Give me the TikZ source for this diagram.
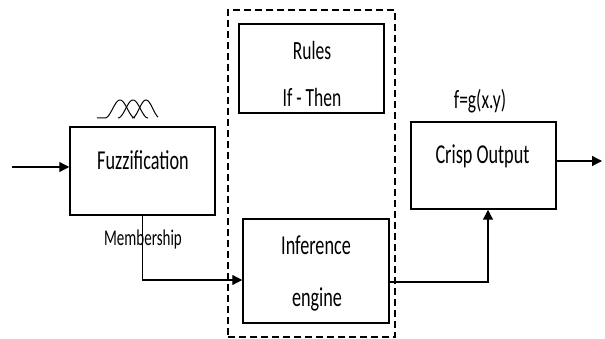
\documentclass[tikz,border=0pt]{standalone}
\usepackage{fontspec}
\usepackage{graphicx}
\setmainfont{Carlito}
\usetikzlibrary{arrows.meta}

% text set a little taller than wide
\newcommand{\tallbox}[1]{\scalebox{1}[1.5]{#1}}

\tikzset{
  blockbox/.style={draw, line width=1.5pt, inner sep=0pt, rectangle},
  label18/.style={inner sep=0pt, font=\fontsize{18.2}{20}\selectfont},
  label17/.style={inner sep=0pt, font=\fontsize{17.5}{20}\selectfont},
  label15/.style={inner sep=0pt, font=\fontsize{15}{18}\selectfont},
  wire/.style={line width=1.2pt},
  arrowwire/.style={wire, -{Triangle[length=10pt,width=10pt]}},
  groupframe/.style={draw, line width=1.6pt, dash pattern=on 7pt off 4pt},
  curve/.style={line width=1pt},
}

\begin{document}
\begin{tikzpicture}[x=1pt, y=-1pt]
  \useasboundingbox (0,0) rectangle (605,339);

  % fuzzy system blocks
  \node[blockbox, minimum width=145pt, minimum height=88pt] (fuzz) at (142.5,171) {};
  \node[groupframe, minimum width=167pt, minimum height=327pt, inner sep=0pt] (group) at (311.5,173.5) {};
  \node[blockbox, minimum width=145pt, minimum height=89pt] (rules) at (311.5,68.5) {};
  \node[blockbox, minimum width=146pt, minimum height=104pt] (inf) at (316,271) {};
  \node[blockbox, minimum width=145pt, minimum height=87pt] (crisp) at (483.5,165.5) {};

  % block captions
  \node[label18] (tfuzz) at (143,160) {\tallbox{Fuzzification}};
  \node[label17] (trules) at (312,50) {\tallbox{Rules}};
  \node[label17] (tif) at (312,97) {\tallbox{If - Then}};
  \node[label18] (tinf) at (316,245.5) {\tallbox{Inference}};
  \node[label18] (teng) at (317,299) {\tallbox{engine}};
  \node[label18] (tcrisp) at (482.5,156) {\tallbox{Crisp Output}};
  \node[label17] (tfun) at (480,101) {\tallbox{f=g(x.y)}};
  \node[label15] (tmem) at (143,240) {\tallbox{Membership}};

  % membership functions above the fuzzifier
  \draw[curve] (97,118) -- (105,118)
    plot[domain=105:135, samples=40, smooth] (\x, {118-18*(0.5+0.5*cos(180*(\x-120)/15))});
  \draw[curve] plot[domain=118:148, samples=40, smooth] (\x, {118-18*(0.5+0.5*cos(180*(\x-133)/15))});
  \draw[curve] plot[domain=132:158, samples=40, smooth] (\x, {118-18*(0.5+0.5*cos(180*(\x-146)/14))});

  % connectors
  \coordinate (inpt) at (12,167);
  \coordinate (memrow) at (0,280);
  \coordinate (outrow) at (0,282);
  \coordinate (outend) at (602,161);
  \draw[arrowwire] (inpt) -- (inpt -| fuzz.west);
  \draw[arrowwire] (fuzz.south) |- (inf.west |- memrow);
  \draw[arrowwire] (inf.east |- outrow) -| ([xshift=4.5pt]crisp.south);
  \draw[arrowwire] (crisp.east |- outend) -- (outend);
\end{tikzpicture}
\end{document}
